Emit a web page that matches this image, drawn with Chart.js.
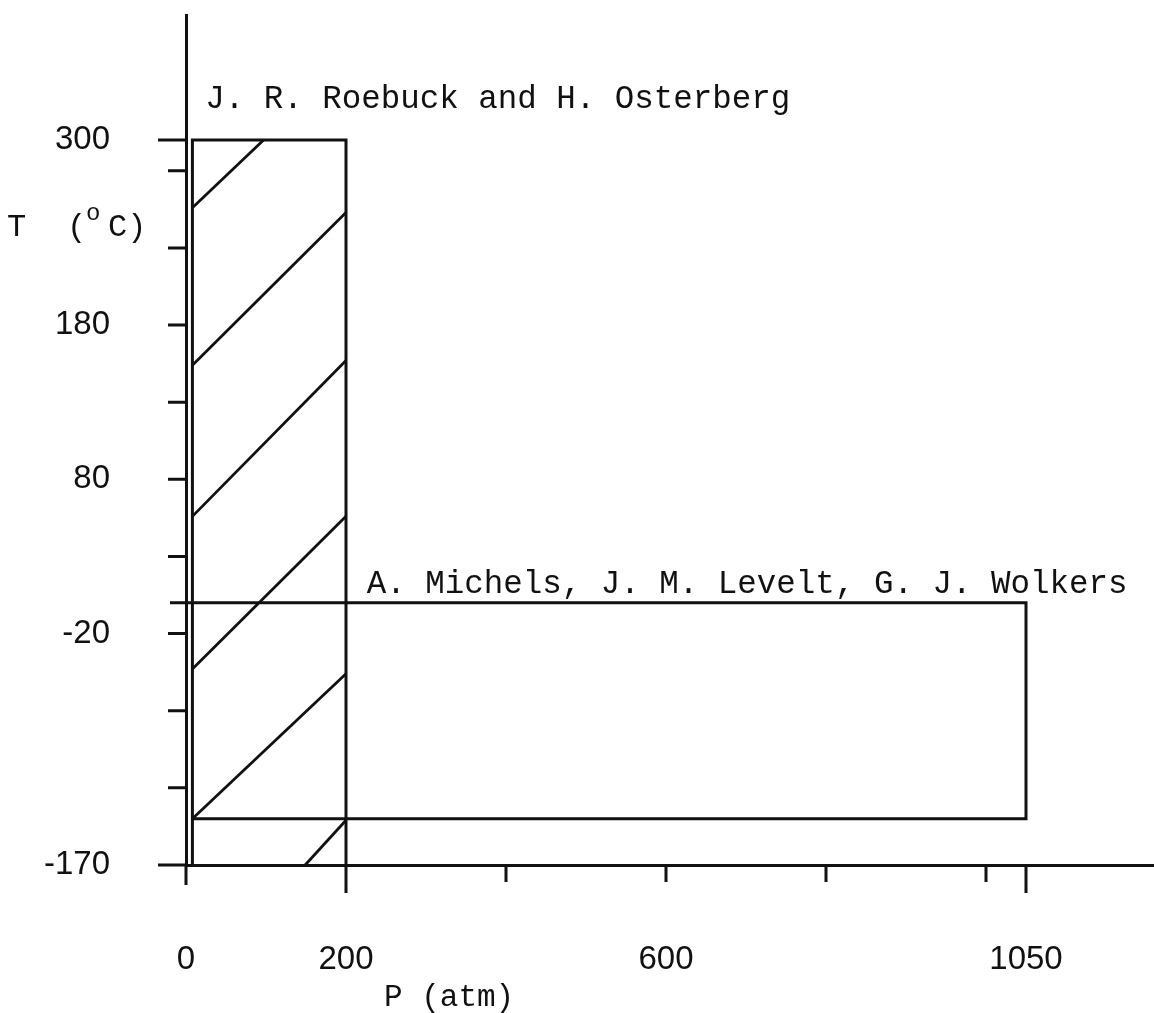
<!DOCTYPE html>
<html>
<head>
<meta charset="utf-8">
<script src="https://cdn.jsdelivr.net/npm/chart.js@4.4.1/dist/chart.umd.min.js"></script>
<style>
  html, body { margin: 0; padding: 0; background: #fff; }
  #wrap { width: 1154px; height: 1013px; }
</style>
</head>
<body>
<div id="wrap"><canvas id="chart" width="1154" height="1013"></canvas></div>
<script>
// axis ticks: pressure (atm) and temperature (deg C)
const pTicks = [0, 200, 400, 600, 800, 1000, 1050];
const pLabels = [0, 200, 600, 1050];
const tTicks = [-170, -120, -70, -20, 30, 80, 130, 180, 230, 280, 300];
const tLabels = [-170, -20, 80, 180, 300];

// J. R. Roebuck and H. Osterberg - hatched range
const roebuckBox = [[8, -170], [8, 300], [200, 300], [200, -170]];
const roebuckHatch = [
  [[8, 256], [97, 300]],
  [[8, 154], [200, 253]],
  [[8, 56], [200, 157]],
  [[8, -43], [200, 56]],
  [[8, -140], [200, -46]],
  [[149, -170], [200, -141]]
];

// A. Michels, J. M. Levelt, G. J. Wolkers range
const michelsBox = [[-20, 0], [1050, 0], [1050, -140], [8, -140]];

// text labels, anchored in (P, T)
const notes = [
  { text: 'J. R. Roebuck and H. Osterberg', p: 24, t: 320.7 },
  { text: 'A. Michels, J. M. Levelt, G. J. Wolkers', p: 226, t: 6.3 }
];

const INK = '#111';
const toPts = arr => arr.map(([x, y]) => ({ x: x, y: y }));

function lineSet(points, extra) {
  return Object.assign({
    data: toPts(points),
    showLine: true,
    pointRadius: 0,
    borderColor: INK,
    borderWidth: 3,
    tension: 0
  }, extra || {});
}

const datasets = [
  lineSet(roebuckBox),
  lineSet(michelsBox, { clip: false })
].concat(roebuckHatch.map(h => lineSet(h, { borderWidth: 2.8 })));

// draws tick marks of varying length plus free text
const extrasPlugin = {
  id: 'extras',
  afterDraw(chart) {
    const ctx = chart.ctx;
    const xs = chart.scales.x, ys = chart.scales.y;
    ctx.save();
    ctx.strokeStyle = INK;
    ctx.lineWidth = 3;
    ctx.beginPath();
    xs.ticks.forEach(tk => {
      const px = xs.getPixelForValue(tk.value);
      const len = (tk.value === 200 || tk.value === 1050) ? 28 : (tk.value === 0 ? 20 : 17);
      ctx.moveTo(px, xs.top);
      ctx.lineTo(px, xs.top + len);
    });
    ys.ticks.forEach(tk => {
      const py = ys.getPixelForValue(tk.value);
      const len = (tk.value === 300 || tk.value === -170) ? 28 : 18;
      ctx.moveTo(ys.right, py);
      ctx.lineTo(ys.right - len, py);
    });
    ctx.stroke();

    ctx.fillStyle = INK;
    ctx.textBaseline = 'alphabetic';
    ctx.textAlign = 'left';
    ctx.font = '32.5px "Liberation Mono"';
    notes.forEach(n => {
      ctx.fillText(n.text, xs.getPixelForValue(n.p), ys.getPixelForValue(n.t));
    });

    // axis titles
    ctx.font = '31px "Liberation Mono"';
    ctx.fillText('P (atm)', 384, 1006);
    ctx.font = '32px "Liberation Mono"';
    ctx.fillText('T', 7, 236);
    ctx.fillText('(', 67, 236);
    ctx.fillText('C)', 108, 236);
    ctx.font = '24px "Liberation Mono"';
    ctx.fillText('o', 86, 220);
    ctx.restore();
  }
};

const tickFont = { family: '"Liberation Sans", Arial, sans-serif', size: 33 };

new Chart(document.getElementById('chart').getContext('2d'), {
  type: 'scatter',
  data: { datasets: datasets },
  options: {
    responsive: false,
    animation: false,
    devicePixelRatio: 1,
    layout: { padding: { top: 15, right: 0, bottom: 0, left: 0 } },
    plugins: { legend: { display: false }, tooltip: { enabled: false } },
    scales: {
      x: {
        type: 'linear',
        min: 0,
        max: 1210,
        afterBuildTicks: s => { s.ticks = pTicks.map(v => ({ value: v })); },
        afterFit: s => { s.height = 148; s.paddingLeft = 0; s.paddingRight = 0; },
        ticks: {
          autoSkip: false,
          maxRotation: 0,
          padding: 58,
          color: INK,
          font: tickFont,
          callback: v => pLabels.includes(v) ? String(v) : ''
        },
        grid: { drawOnChartArea: false, drawTicks: true, tickLength: 17, color: 'rgba(0,0,0,0)' },
        border: { color: INK, width: 3 }
      },
      y: {
        type: 'linear',
        min: -170,
        max: 381,
        afterBuildTicks: s => { s.ticks = tTicks.map(v => ({ value: v })); },
        afterFit: s => { s.width = 186; s.paddingTop = 0; s.paddingBottom = 0; },
        ticks: {
          autoSkip: false,
          padding: 59,
          color: INK,
          font: tickFont,
          callback: v => tLabels.includes(v) ? String(v) : ''
        },
        grid: { drawOnChartArea: false, drawTicks: true, tickLength: 17, color: 'rgba(0,0,0,0)' },
        border: { color: INK, width: 3 }
      }
    }
  },
  plugins: [extrasPlugin]
});
</script>
</body>
</html>
